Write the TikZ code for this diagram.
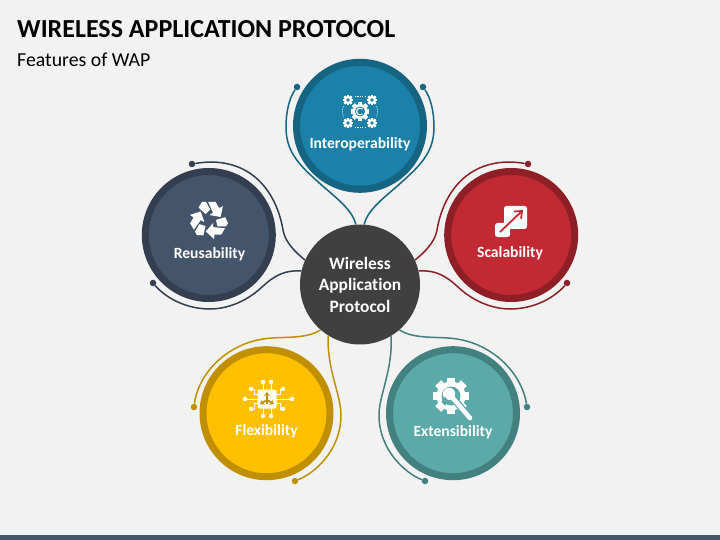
\documentclass[tikz,border=0pt]{standalone}
\usepackage{fontspec}
\setmainfont[Ligatures=NoCommon]{Carlito}
\usetikzlibrary{positioning,arrows.meta}

\definecolor{pagebg}{HTML}{F2F2F2}
\definecolor{barcol}{HTML}{44546A}
\definecolor{hubcol}{HTML}{404040}
\definecolor{interfill}{HTML}{1B81A9}
\definecolor{interring}{HTML}{156482}
\definecolor{reusefill}{HTML}{44546A}
\definecolor{reusering}{HTML}{333F50}
\definecolor{scalefill}{HTML}{C12A33}
\definecolor{scalering}{HTML}{8E1F26}
\definecolor{flexfill}{HTML}{FFC000}
\definecolor{flexring}{HTML}{C09000}
\definecolor{extfill}{HTML}{5BA9A9}
\definecolor{extring}{HTML}{438080}

\tikzset{
    feature/.style = {circle, line width=7pt, minimum size=127pt, inner sep=0pt},
    hubnode/.style = {circle, fill=hubcol, minimum size=120pt, inner sep=0pt, text=white, align=center, font=\fontsize{17.4}{21.5}\selectfont},
    caption/.style = {text=white, font=\fontsize{15.6}{18}\selectfont\bfseries, inner sep=0pt},
    link/.style = {line width=1.5pt},
    tipdot/.style = {circle, fill, minimum size=6.5pt, inner sep=0pt},
    gearteeth/.pic = {
        \foreach \a in {0,45,...,315}
            \fill[white,rotate=\a] (-0.28,-1.25) rectangle (0.28,1.25);
        \fill[white] (0,0) circle (1);
    },
    recycleicon/.pic = {
        \foreach \a in {0,120,240} {
            \fill[white,rotate=\a] (-0.8,-18) -- (6.5,-18) -- (10,-12) -- (14,-14) -- (11.5,-3) -- (0.5,-5) -- (4,-7.3) -- cycle;
            \fill[white,rotate=\a] (-10.5,-12.5) -- (-7,-18) -- (-3,-18) -- (1.2,-10.5) -- (-3.5,-6) -- cycle;
        }
    }
}

\begin{document}
\begin{tikzpicture}[x=1pt, y=-1pt]
    \useasboundingbox (0,0) rectangle (720,540);
    \fill[pagebg] (0,0) rectangle (720,540);
    \fill[barcol] (0,535) rectangle (720,540);

    \node[anchor=west, inner sep=0pt, font=\fontsize{26}{30}\selectfont\bfseries] (title) at (17,29) {WIRELESS APPLICATION PROTOCOL};
    \node[anchor=west, inner sep=0pt, font=\fontsize{19.8}{22}\selectfont] (subtitle) at (17,59.5) {Features of WAP};

    \node[hubnode] (hub) at (360,284.5) {\raisebox{-1pt}{\textbf{Wireless}}\\\raisebox{-1pt}{\textbf{Application}}\\\raisebox{-1pt}{\textbf{Protocol}}};

    \node[feature, fill=interfill, draw=interring] (inter) [above=31.5pt of hub] {};
    \node[feature, fill=reusefill, draw=reusering] (reuse) [left=24pt of hub, yshift=49.5pt] {};
    \node[feature, fill=scalefill, draw=scalering] (scale) [right=24pt of hub, yshift=49.5pt] {};
    \node[feature, fill=flexfill, draw=flexring] (flex) [below=1.5pt of hub, xshift=-93.5pt] {};
    \node[feature, fill=extfill, draw=extring] (ext) [below=1.5pt of hub, xshift=93pt] {};

    \node[caption] (interlabel) at (360,144.5) {Interoperability};
    \node[caption] (reuselabel) at (209.5,254.5) {Reusability};
    \node[caption] (scalelabel) at (510,253.5) {Scalability};
    \node[caption] (flexlabel) at (266.5,431.5) {Flexibility};
    \node[caption] (extlabel) at (453,432.5) {Extensibility};

    \node[tipdot, interring] (interleft) at (297,87) {};
    \node[tipdot, interring] (interright) at (423,87) {};
    \node[tipdot, reusering] (reusetop) at (192,164) {};
    \node[tipdot, reusering] (reusebottom) at (153,283) {};
    \node[tipdot, scalering] (scaletop) at (528,164) {};
    \node[tipdot, scalering] (scalebottom) at (567,283) {};
    \node[tipdot, flexring] (flexleft) at (194,407) {};
    \node[tipdot, flexring] (flexright) at (295,481) {};
    \node[tipdot, extring] (extright) at (527,407) {};
    \node[tipdot, extring] (extleft) at (425,481) {};

    % curved links, hub to dots
    \draw[link, interring] (hub.94) .. controls (352,208) and (332,195) .. (316,180) .. controls (297,163) and (286,150) .. (286,127) .. controls (286,110) and (290,97) .. (interleft);
    \draw[link, interring] (hub.86) .. controls (368,208) and (388,195) .. (404,180) .. controls (423,163) and (434,150) .. (434,127) .. controls (434,110) and (430,97) .. (interright);
    \draw[link, reusering] (hub.156) .. controls (295,252) and (285,242) .. (283,230) .. controls (279,205) and (262,163) .. (212,162) .. controls (205,162) and (198,163) .. (reusetop);
    \draw[link, reusering] (hub.167) .. controls (285,270) and (275,275) .. (262,287) .. controls (245,303) and (225,309) .. (210,309) .. controls (185,309) and (165,297) .. (reusebottom);
    \draw[link, scalering] (hub.24) .. controls (425,252) and (435,242) .. (437,230) .. controls (441,205) and (458,163) .. (508,162) .. controls (515,162) and (522,163) .. (scaletop);
    \draw[link, scalering] (hub.13) .. controls (435,270) and (445,275) .. (458,287) .. controls (475,303) and (495,309) .. (510,309) .. controls (535,309) and (555,297) .. (scalebottom);
    \draw[link, flexring] (hub.229) .. controls (305,340) and (280,336) .. (263,339) .. controls (225,345) and (198,375) .. (flexleft);
    \draw[link, flexring] (hub.238) .. controls (327,370) and (341,395) .. (341,415) .. controls (341,450) and (315,473) .. (flexright);
    \draw[link, extring] (hub.311) .. controls (415,340) and (440,336) .. (457,339) .. controls (495,345) and (522,375) .. (extright);
    \draw[link, extring] (hub.301) .. controls (393,370) and (379,395) .. (379,415) .. controls (379,450) and (405,473) .. (extleft);

    % interoperability icon
    \begin{scope}[shift={(360,111.5)}]
        \pic[scale=7.5] {gearteeth};
        \fill[interfill] (0,0) circle (5);
        \draw[white, line width=1.1pt] (2.4,-2.4) arc (-45:-315:3.4);
        \foreach \sx in {-12,12} \foreach \sy in {-11.5,11.5} {
            \pic[shift={(\sx,\sy)}, scale=4] {gearteeth};
            \fill[interfill] (\sx,\sy) circle (1.8);
        }
        \draw[white, line width=0.6pt, dash pattern=on 1.2pt off 1.2pt] (-5,-15.5) -- (5,-15.5) (-5,15.5) -- (5,15.5);
        \draw[white, line width=0.6pt, dash pattern=on 1.2pt off 1.2pt] (-16.5,-5) .. controls (-18,-2) and (-18,2) .. (-16.5,5) (16.5,-5) .. controls (18,-2) and (18,2) .. (16.5,5);
    \end{scope}

    % reusability icon
    \pic at (209,220) {recycleicon};

    % scalability icon
    \fill[white, rounded corners=2.5pt] (504,206) rectangle (527,229);
    \fill[white, rounded corners=2.5pt] (495,223) rectangle (510,237);
    \draw[scalefill, line width=1.8pt, -{Straight Barb[length=6pt,width=10pt]}] (500,232) -- (523,210);

    % flexibility icon
    \begin{scope}[shift={(267,399)}]
        \foreach \px/\py/\qx/\qy in {-4/-17/-4/-9, 4/-17/4/-9, -4/17/-4/9, 4/17/4/9, -22/0/-9/0, 25/0/9/0} {
            \draw[white, line width=1pt] (\px,\py) -- (\qx,\qy);
            \fill[white] (\px,\py) circle (2.2);
        }
        \foreach \sx in {-1,1} \foreach \sy in {-1,1} {
            \draw[white, line width=1pt] (16*\sx,10*\sy) -- (13*\sx,10*\sy) -- (13*\sx,4.5*\sy) -- (9*\sx,4.5*\sy);
            \fill[white] (16*\sx,10*\sy) circle (2.2);
        }
        \fill[white, rounded corners=2pt] (-9.5,-9.5) rectangle (9.5,9.5);
        \draw[flexring, line width=1.8pt, -{Stealth[length=4pt,width=6pt]}] (0,5) -- (0,-7);
        \draw[flexring, line width=1.8pt, -{Stealth[length=4pt,width=6pt]}] (0,1) -- (-7,5);
        \draw[flexring, line width=1.8pt, -{Stealth[length=4pt,width=6pt]}] (0,1) -- (7,5);
    \end{scope}

    % extensibility icon
    \begin{scope}[shift={(451,396)}]
        \pic[scale=14.5] {gearteeth};
        \fill[extfill] (0,0) circle (9.5);
        \fill[white] (-2,-2) circle (6.2);
        \fill[extfill, rotate=45] (-5,-4) -- (-11,-2.6) -- (-11,2.6) -- (-5,1) -- cycle;
        \draw[extfill, line width=7pt] (2,2) -- (19,22);
        \draw[white, line width=4.6pt, line cap=round] (0,0) -- (19,22);
    \end{scope}
\end{tikzpicture}
\end{document}
